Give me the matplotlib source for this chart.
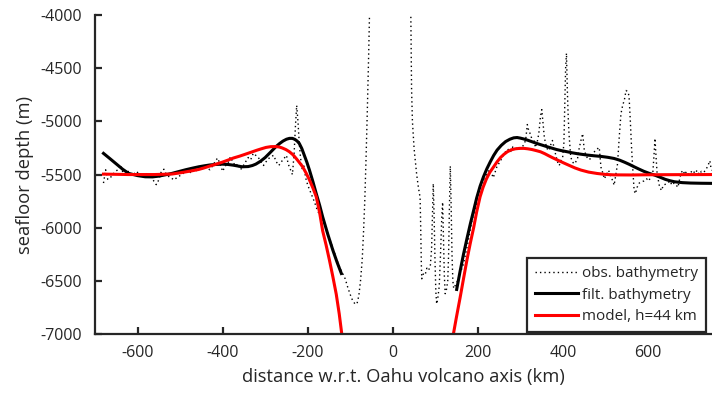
import numpy as np
import matplotlib
matplotlib.use('agg')
import matplotlib.pyplot as plt

plt.rcParams['font.family'] = ['Open Sans', 'DejaVu Sans']
plt.rcParams['axes.unicode_minus'] = False

# observed bathymetry (km, m)
obs_x = [-680, -675, -670, -664, -658, -652, -646, -640, -634, -628, -622, -616, -610, -604,
         -598, -592, -586, -580, -574, -568, -562, -556, -550, -544, -538, -532, -526, -520,
         -514, -508, -502, -496, -490, -484, -478, -472, -466, -460, -454, -448, -442, -436,
         -430, -424, -418, -412, -406, -400, -394, -388, -382, -376, -370, -364, -358, -352,
         -346, -340, -334, -328, -322, -316, -310, -304, -298, -292, -286, -280, -274, -268,
         -262, -256, -250, -246, -240, -236, -232, -229, -226, -223, -220, -217, -213, -209,
         -205, -200, -195, -190, -184, -178, -172, -166, -160, -154, -148, -142, -136, -130,
         -124, -118, -112, -106, -100, -94, -88, -84, -80, -76, -72, -69, -66, -63, -60, -57,
         -55, -52, -48, -40, 0, 35, 42, 43, 44, 46, 50, 53, 56, 60, 64, 65, 66, 67, 68, 72,
         76, 80, 84, 88, 91, 93, 95, 97, 99, 101, 103, 106, 109, 112, 115, 117, 119, 121, 123,
         126, 129, 131, 133, 135, 137, 139, 141, 143, 147, 152, 158, 166, 176, 186, 196, 205,
         212, 220, 228, 236, 245, 252, 258, 264, 270, 276, 282, 288, 294, 300, 306, 312, 316,
         320, 324, 328, 332, 335, 339, 343, 347, 350, 353, 356, 359, 363, 367, 371, 375, 379,
         383, 387, 391, 395, 399, 402, 404, 406, 408, 410, 412, 414, 418, 422, 426, 430, 434,
         438, 442, 446, 450, 455, 460, 465, 470, 475, 480, 485, 489, 493, 497, 502, 507, 512,
         517, 520, 524, 528, 532, 536, 540, 544, 548, 552, 555, 558, 561, 564, 567, 570, 574,
         579, 584, 590, 596, 602, 607, 611, 614, 616, 618, 621, 626, 631, 636, 641, 646, 651,
         656, 661, 666, 670, 674, 678, 682, 686, 690, 695, 700, 705, 710, 715, 720, 725, 730,
         735, 740, 745, 748, 750]
obs_y = [-5580, -5455, -5545, -5530, -5500, -5470, -5455, -5410, -5485, -5500, -5470, -5500,
         -5480, -5500, -5470, -5510, -5500, -5485, -5520, -5500, -5560, -5595, -5550, -5470,
         -5450, -5500, -5520, -5535, -5550, -5530, -5515, -5500, -5480, -5470, -5490, -5460,
         -5440, -5470, -5440, -5450, -5420, -5440, -5455, -5420, -5380, -5345, -5400, -5470,
         -5420, -5400, -5335, -5380, -5420, -5400, -5455, -5420, -5380, -5340, -5360, -5300,
         -5320, -5340, -5380, -5415, -5380, -5350, -5330, -5320, -5380, -5415, -5380, -5350,
         -5320, -5400, -5460, -5500, -5300, -5050, -4850, -5000, -5200, -5340, -5450, -5420,
         -5530, -5600, -5650, -5700, -5760, -5830, -5880, -5920, -5970, -6040, -6110, -6180,
         -6250, -6320, -6380, -6430, -6480, -6560, -6630, -6690, -6720, -6710, -6640, -6500,
         -6300, -6050, -5750, -5350, -4900, -4400, -4000, -3500, -2500, -1000, -500, -1500,
         -3900, -4300, -4700, -5000, -5260, -5380, -5500, -5620, -5715, -5900, -6150, -6350,
         -6480, -6430, -6440, -6380, -6400, -6360, -6200, -5900, -5585, -5900, -6300, -6600,
         -6717, -6650, -6550, -6250, -5900, -5760, -6100, -6450, -6620, -6580, -6500, -6250,
         -5800, -5420, -5800, -6250, -6500, -6570, -6540, -6500, -6430, -6340, -6150, -5930,
         -5790, -5700, -5600, -5500, -5450, -5530, -5420, -5380, -5330, -5290, -5260, -5290,
         -5240, -5245, -5270, -5250, -5230, -5180, -5030, -5100, -5120, -5200, -5180, -5245,
         -5200, -5115, -4950, -4890, -5020, -5150, -5210, -5260, -5275, -5220, -5180, -5250,
         -5320, -5380, -5415, -5370, -5340, -5200, -4860, -4500, -4360, -4700, -4950, -5120,
         -5335, -5380, -5400, -5380, -5350, -5250, -5180, -5115, -5275, -5330, -5360, -5350,
         -5300, -5280, -5260, -5245, -5430, -5480, -5540, -5500, -5460, -5520, -5560, -5600,
         -5500, -5400, -5150, -4930, -4850, -4800, -4710, -4720, -4760, -4990, -5250, -5460,
         -5650, -5680, -5620, -5580, -5570, -5560, -5540, -5560, -5500, -5480, -5300, -5160,
         -5300, -5490, -5600, -5650, -5600, -5590, -5580, -5560, -5600, -5580, -5600, -5620,
         -5540, -5480, -5460, -5500, -5470, -5500, -5480, -5460, -5490, -5460, -5500, -5470,
         -5480, -5460, -5420, -5370, -5450, -5460]

# filtered bathymetry, west and east flanks
filt_w_x = [-680, -665, -650, -635, -621, -600, -582, -565, -550, -535, -519, -503, -487, -471,
            -456, -443, -430, -415, -401, -388, -375, -364, -354, -340, -330, -322, -311, -300,
            -288, -275, -266, -258, -250, -243, -236, -230, -225, -220, -214, -208, -202, -196,
            -188, -180, -172, -165, -153, -141, -131, -121]
filt_w_y = [-5301, -5350, -5400, -5450, -5489, -5510, -5521, -5522, -5515, -5503, -5489, -5472,
            -5455, -5440, -5427, -5418, -5410, -5405, -5402, -5405, -5412, -5420, -5427, -5425,
            -5415, -5402, -5375, -5340, -5292, -5239, -5208, -5185, -5168, -5160, -5160, -5170,
            -5185, -5207, -5255, -5320, -5385, -5458, -5565, -5680, -5790, -5897, -6060, -6211,
            -6325, -6430]
filt_e_x = [150, 158, 166, 174, 182, 190, 197, 205, 213, 221, 229, 237, 245, 255, 265, 275, 284,
            292, 300, 308, 316, 328, 340, 352, 363, 374, 385, 397, 410, 422, 435, 446, 457, 474,
            490, 505, 520, 533, 545, 556, 567, 578, 590, 602, 615, 628, 640, 651, 662, 680, 700,
            725, 750]
filt_e_y = [-6580, -6410, -6250, -6105, -5965, -5835, -5720, -5610, -5521, -5445, -5380, -5320,
            -5270, -5225, -5190, -5168, -5155, -5152, -5158, -5166, -5176, -5193, -5210, -5225,
            -5239, -5252, -5265, -5276, -5286, -5296, -5305, -5311, -5317, -5324, -5330, -5338,
            -5349, -5365, -5385, -5405, -5427, -5448, -5470, -5488, -5505, -5525, -5545, -5558,
            -5568, -5576, -5580, -5582, -5583]

# flexure model h=44 km
mod_w_x = [-680, -620, -560, -519, -503, -487, -471, -456, -443, -430, -415, -401, -388, -375,
           -360, -346, -333, -320, -309, -298, -287, -275, -267, -260, -251, -243, -235, -228,
           -220, -212, -204, -196, -188, -180, -172, -165, -157, -149, -141, -133, -126, -120,
           -112]
mod_w_y = [-5496, -5500, -5500, -5495, -5486, -5475, -5464, -5452, -5437, -5420, -5402, -5384,
           -5365, -5345, -5327, -5308, -5290, -5272, -5258, -5245, -5238, -5237, -5241, -5250,
           -5266, -5286, -5313, -5345, -5385, -5427, -5485, -5550, -5625, -5709, -5860, -6028,
           -6160, -6305, -6460, -6625, -6810, -7000, -7200]
mod_e_x = [137, 140, 149, 158, 166, 174, 182, 190, 197, 205, 212, 220, 228, 237, 245, 253, 261,
           269, 278, 288, 298, 308, 317, 327, 337, 347, 357, 367, 377, 387, 401, 415, 428, 442,
           460, 480, 500, 520, 560, 600, 750]
mod_e_y = [-7200, -7050, -6850, -6658, -6480, -6305, -6145, -5997, -5850, -5709, -5620, -5540,
           -5478, -5427, -5380, -5340, -5310, -5286, -5268, -5258, -5254, -5254, -5258, -5265,
           -5275, -5286, -5304, -5325, -5345, -5364, -5390, -5415, -5438, -5458, -5477, -5490,
           -5499, -5503, -5504, -5502, -5500]

ink = '#262626'
fig = plt.figure(figsize=(7.12, 3.94), dpi=100)
ax = fig.add_axes([0.1334, 0.152, 0.8666, 0.81])

ax.plot(obs_x, obs_y, linestyle=(0, (1, 2.2)), color='black', lw=1.0, label='obs. bathymetry')
ax.plot(filt_w_x, filt_w_y, '-', color='black', lw=2.2, label='filt. bathymetry')
ax.plot(filt_e_x, filt_e_y, '-', color='black', lw=2.2)
ax.plot(mod_w_x, mod_w_y, '-', color='#ff0000', lw=2.2, label='model, h=44 km')
ax.plot(mod_e_x, mod_e_y, '-', color='#ff0000', lw=2.2)

ax.set_xlim(-700, 750)
ax.set_ylim(-7000, -4000)
ax.set_xticks([-600, -400, -200, 0, 200, 400, 600])
ax.set_yticks(np.arange(-7000, -3999, 500))
for s in ['top', 'right']:
    ax.spines[s].set_visible(False)
for s in ['left', 'bottom']:
    ax.spines[s].set_linewidth(1.6)
    ax.spines[s].set_color(ink)
ax.tick_params(direction='in', length=5, width=1.6, color=ink, labelcolor=ink, labelsize=11.5)
ax.tick_params(axis='y', pad=9)
ax.tick_params(axis='x', pad=8)
ax.set_xlabel('distance w.r.t. Oahu volcano axis (km)', fontsize=13.2, color=ink, labelpad=5)
ax.set_ylabel('seafloor depth (m)', fontsize=13.2, color=ink, labelpad=5)

leg = ax.legend(loc='lower right', bbox_to_anchor=(0.99, 0.008), fontsize=11, fancybox=False,
                framealpha=1, edgecolor=ink, handlelength=2.8, labelspacing=0.42,
                borderpad=0.5, handletextpad=0.3, borderaxespad=0)
leg.get_frame().set_linewidth(1.6)
for t in leg.get_texts():
    t.set_color(ink)

fig.savefig('out.png', dpi=100)
